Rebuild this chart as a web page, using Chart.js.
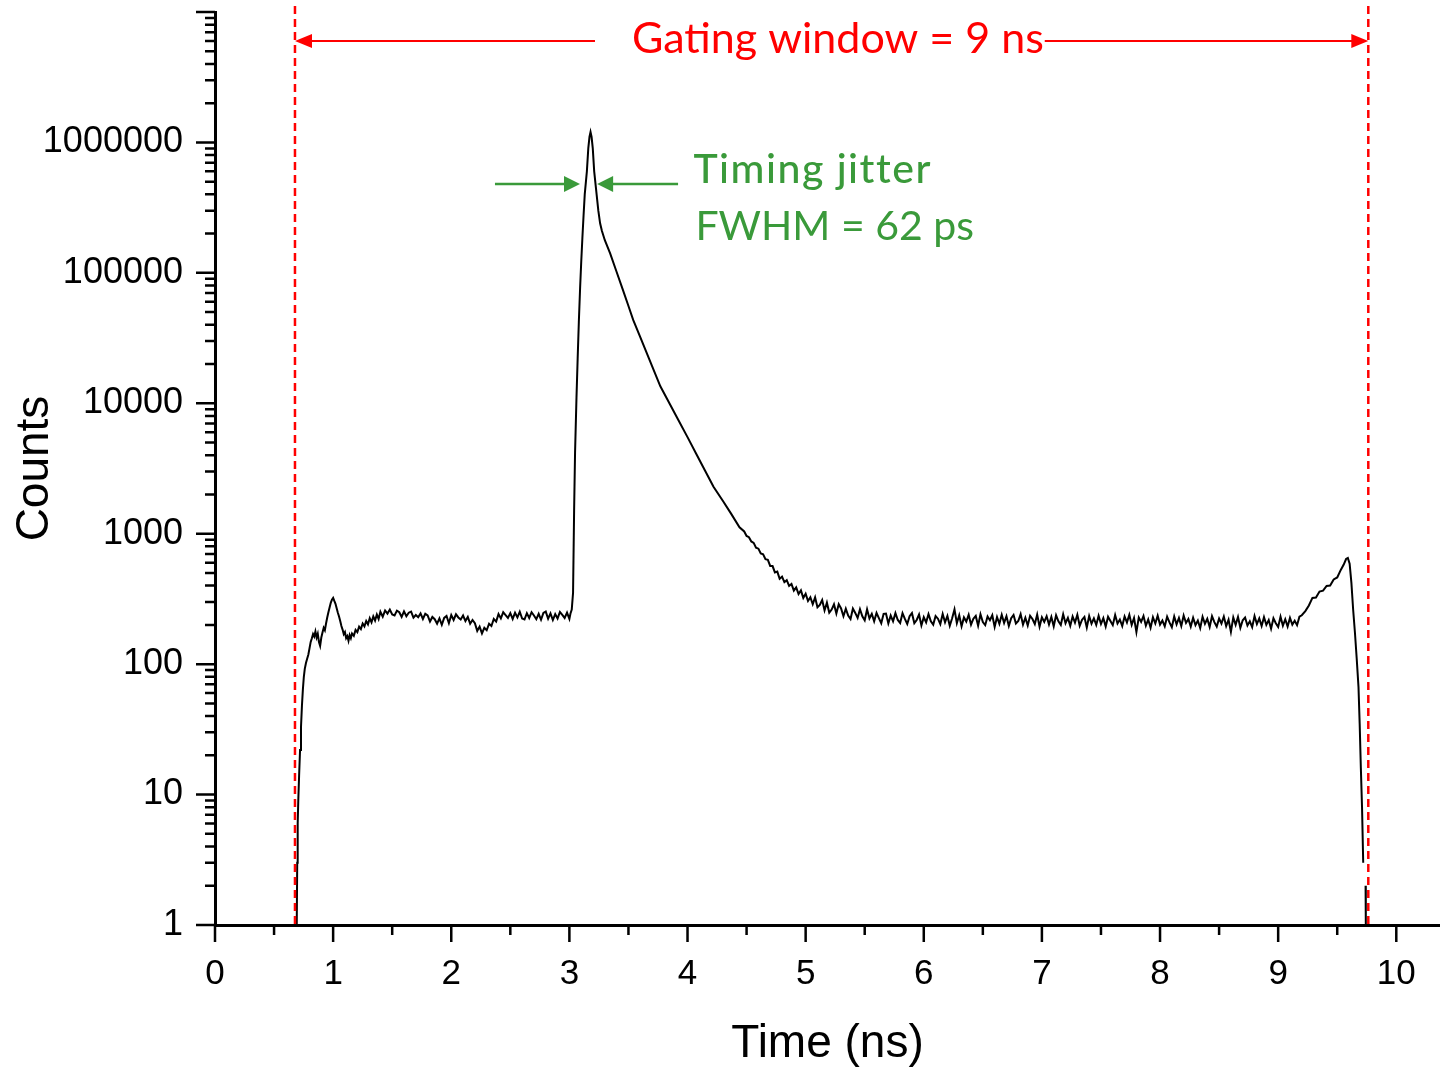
<!DOCTYPE html>
<html>
<head>
<meta charset="utf-8">
<title>Gated detector timing histogram</title>
<script src="https://cdn.jsdelivr.net/npm/chart.js@4.4.1/dist/chart.umd.min.js"></script>
<style>
  html, body { margin: 0; padding: 0; background: #ffffff; }
  #wrap { position: relative; width: 1440px; height: 1067px; }
</style>
</head>
<body>
<div id="wrap"><canvas id="histogram"></canvas></div>
<script>
// Rising edge of the gate and the background plateau before the photon peak
const earlyTimeNs = [
  0.692, 0.696, 0.700, 0.705, 0.712, 0.720, 0.728, 0.736, 0.744, 0.752,
  0.760, 0.770, 0.780, 0.790, 0.800, 0.810, 0.820, 0.830, 0.840, 0.850,
  0.860, 0.870, 0.880, 0.890, 0.900, 0.910, 0.920, 0.930, 0.940, 0.950,
  0.960, 0.970, 0.980, 0.990, 1.000, 1.010, 1.020, 1.030, 1.040, 1.050,
  1.060, 1.070, 1.080, 1.090, 1.100, 1.110, 1.120, 1.130, 1.140, 1.150,
  1.160, 1.175, 1.190, 1.205, 1.220, 1.235, 1.250, 1.265, 1.280, 1.295,
  1.310, 1.325, 1.340, 1.355, 1.370, 1.385, 1.400,
  1.42, 1.44, 1.46, 1.48, 1.50, 1.52, 1.54, 1.56, 1.58, 1.60,
  1.62, 1.64, 1.66, 1.68, 1.70, 1.72, 1.74, 1.76, 1.78, 1.80,
  1.82, 1.84, 1.86, 1.88, 1.90, 1.92, 1.94, 1.96, 1.98, 2.00,
  2.02, 2.04, 2.06, 2.08, 2.10, 2.12, 2.14, 2.16, 2.18, 2.20,
  2.22, 2.24, 2.26, 2.28, 2.30, 2.32, 2.34, 2.36, 2.38, 2.40,
  2.42, 2.44, 2.46, 2.48, 2.50, 2.52, 2.54, 2.56, 2.58, 2.60,
  2.62, 2.64, 2.66, 2.68, 2.70, 2.72, 2.74, 2.76, 2.78, 2.80,
  2.82, 2.84, 2.86, 2.88, 2.90, 2.92, 2.94, 2.96, 2.98, 3.00,
  3.01, 3.02
];
const earlyCounts = [
  1, 3, 6, 9, 14, 22, 33, 48, 64, 80,
  92, 102, 110, 118, 132, 148, 158, 170, 163, 178,
  160, 171, 148, 138, 160, 175, 190, 182, 205, 228,
  250, 272, 295, 312, 322, 305, 290, 268, 248, 232,
  214, 196, 184, 170, 176, 158, 164, 151, 167, 158,
  172, 165, 183, 176, 194, 186, 205, 195, 214, 202,
  225, 209, 232, 216, 240, 222, 252,
  231, 258, 244, 262, 240, 236, 257, 250, 230, 254,
  233, 248, 253, 227, 238, 229, 245, 222, 243, 236,
  212, 230, 221, 204, 224, 200, 226, 234, 206, 238,
  218, 241, 228, 220, 236, 214, 230, 204, 218, 206,
  180, 194, 172, 190, 182, 204, 196, 222, 212, 242,
  224, 250, 238, 226, 246, 222, 248, 228, 252, 224,
  220, 246, 226, 250, 236, 221, 243, 219, 247, 253,
  223, 245, 218, 242, 224, 251, 239, 226, 248, 222,
  246, 262
];

// Photon peak and its diffusion tail
const peakTimeNs = [
  3.031, 3.040, 3.048, 3.060, 3.070, 3.080, 3.091, 3.100, 3.110, 3.120,
  3.130, 3.148, 3.160, 3.170, 3.179, 3.188, 3.198, 3.210, 3.228, 3.245,
  3.260, 3.275, 3.300, 3.345, 3.400, 3.450, 3.500, 3.540, 3.600, 3.650,
  3.700, 3.770, 3.850, 3.920, 4.000, 4.070, 4.150, 4.220, 4.300, 4.370,
  4.440
];
const peakCounts = [
  352, 1500, 4200, 11000, 22000, 42000, 78000, 120000, 185000, 275000,
  400000, 600000, 900000, 1100000, 1200000, 1100000, 900000, 600000, 420000, 300000,
  240000, 210000, 178000, 141000, 101600, 75300, 55700, 43600, 32100, 24900,
  19300, 13500, 9860, 7500, 5500, 4160, 3030, 2290, 1780, 1420,
  1120
];

// Late background plateau
const lateTimeNs = [
  4.48, 4.50, 4.52, 4.54, 4.56, 4.58, 4.60, 4.62, 4.64, 4.66,
  4.68, 4.70, 4.72, 4.74, 4.76, 4.78, 4.80, 4.82, 4.84, 4.86,
  4.88, 4.90, 4.92, 4.94, 4.96, 4.98, 5.00, 5.02, 5.04, 5.06,
  5.08, 5.10, 5.12, 5.14, 5.16, 5.18, 5.20, 5.22, 5.24, 5.26,
  5.28, 5.30, 5.32, 5.34, 5.36, 5.38, 5.40, 5.42, 5.44, 5.46,
  5.48, 5.50, 5.52, 5.54, 5.56, 5.58, 5.60, 5.62, 5.64, 5.66,
  5.68, 5.70, 5.72, 5.74, 5.76, 5.78, 5.80, 5.82, 5.84, 5.86,
  5.88, 5.90, 5.92, 5.94, 5.96, 5.98, 6.00, 6.02, 6.04, 6.06,
  6.08, 6.10, 6.12, 6.14, 6.16, 6.18, 6.20, 6.22, 6.24, 6.26,
  6.28, 6.30, 6.32, 6.34, 6.36, 6.38, 6.40, 6.42, 6.44, 6.46,
  6.48, 6.50, 6.52, 6.54, 6.56, 6.58, 6.60, 6.62, 6.64, 6.66,
  6.68, 6.70, 6.72, 6.74, 6.76, 6.78, 6.80, 6.82, 6.84, 6.86,
  6.88, 6.90, 6.92, 6.94, 6.96, 6.98, 7.00, 7.02, 7.04, 7.06,
  7.08, 7.10, 7.12, 7.14, 7.16, 7.18, 7.20, 7.22, 7.24, 7.26,
  7.28, 7.30, 7.32, 7.34, 7.36, 7.38, 7.40, 7.42, 7.44, 7.46,
  7.48, 7.50, 7.52, 7.54, 7.56, 7.58, 7.60, 7.62, 7.64, 7.66,
  7.68, 7.70, 7.72, 7.74, 7.76, 7.78, 7.80, 7.82, 7.84, 7.86,
  7.88, 7.90, 7.92, 7.94, 7.96, 7.98, 8.00, 8.02, 8.04, 8.06,
  8.08, 8.10, 8.12, 8.14, 8.16, 8.18, 8.20, 8.22, 8.24, 8.26,
  8.28, 8.30, 8.32, 8.34, 8.36, 8.38, 8.40, 8.42, 8.44, 8.46,
  8.48, 8.50, 8.52, 8.54, 8.56, 8.58, 8.60, 8.62, 8.64, 8.66,
  8.68, 8.70, 8.72, 8.74, 8.76, 8.78, 8.80, 8.82, 8.84, 8.86,
  8.88, 8.90, 8.92, 8.94, 8.96, 8.98, 9.00, 9.02, 9.04, 9.06,
  9.08, 9.10, 9.12, 9.14, 9.16, 9.18, 9.20
];
const lateCounts = [
  1040, 962, 940, 872, 850, 782, 768, 706, 695, 638,
  630, 566, 565, 505, 512, 452, 468, 425, 440, 398,
  412, 366, 388, 345, 368, 322, 347, 305, 326, 288,
  325, 273, 284, 310, 258, 296, 248, 262, 288, 245,
  288, 267, 233, 266, 236, 222, 267, 247, 226, 264,
  233, 217, 263, 224, 243, 213, 247, 225, 206, 243,
  244, 205, 236, 213, 246, 218, 207, 246, 222, 203,
  233, 246, 206, 218, 240, 198, 229, 209, 242, 213,
  201, 234, 223, 203, 242, 209, 234, 197, 225, 263,
  206, 237, 195, 228, 212, 239, 201, 223, 234, 197,
  241, 210, 199, 232, 217, 237, 193, 230, 204, 239,
  207, 233, 196, 225, 238, 205, 214, 242, 201, 227,
  198, 235, 222, 203, 240, 194, 229, 211, 233, 201,
  230, 195, 237, 213, 200, 241, 206, 226, 197, 232,
  208, 239, 197, 219, 230, 191, 234, 204, 224, 200,
  235, 203, 225, 194, 231, 214, 199, 238, 205, 220,
  196, 232, 209, 239, 200, 226, 176, 228, 211, 234,
  197, 220, 190, 229, 205, 235, 201, 216, 195, 231,
  209, 192, 232, 202, 226, 196, 236, 207, 222, 194,
  227, 199, 216, 189, 231, 204, 223, 193, 233, 210,
  194, 224, 205, 232, 196, 219, 177, 228, 200, 230,
  190, 217, 228, 198, 213, 192, 234, 203, 224, 196,
  229, 200, 218, 187, 225, 206, 193, 231, 197, 221,
  194, 226, 201, 215, 199, 231, 237
];

// Afterpulse bump and falling edge of the gate (null = empty bin)
const edgeTimeNs = [
  9.23, 9.26, 9.29, 9.32, 9.35, 9.38, 9.41, 9.44, 9.47, 9.50,
  9.53, 9.555, 9.575, 9.59, 9.605, 9.62, 9.635, 9.65, 9.665, 9.68,
  9.69, 9.70, 9.71, 9.72, 9.73, 9.74, 9.742
];
const edgeCounts = [
  255, 282, 322, 324, 360, 366, 398, 400, 446, 462,
  528, 580, 640, 652, 590, 420, 260, 174, 110, 67,
  35, 16, 8, 3, null, 2, 1
];

// Axis ticks
const xTickValues = [0, 1, 2, 3, 4, 5, 6, 7, 8, 9, 10];
const yTickValues = [1, 10, 100, 1000, 10000, 100000, 1000000, 10000000];
const yTickLabels = ['1', '10', '100', '1000', '10000', '100000', '1000000', ''];

// Gate edges and annotation anchors (data units)
const gateStartNs = 0.677;
const gateEndNs = 9.763;
const gateArrowCounts = 6.0e6;
const gateLabelStartNs = 3.53;
const jitterArrowCounts = 4.8e5;
const jitterLeftTailNs = 2.37;
const jitterLeftTipNs = 3.09;
const jitterRightTipNs = 3.235;
const jitterRightTailNs = 3.92;
const jitterLabelNs = 4.05;

const RED = '#ff0000';
const GREEN = '#3a9a3a';

const timeNs = earlyTimeNs.concat(peakTimeNs, lateTimeNs, edgeTimeNs);
const counts = earlyCounts.concat(peakCounts, lateCounts, edgeCounts);
const points = timeNs.map((t, i) => ({ x: t, y: counts[i] }));

function arrowHead(ctx, tipX, tipY, dir, len, half) {
  ctx.beginPath();
  ctx.moveTo(tipX, tipY);
  ctx.lineTo(tipX - dir * len, tipY - half);
  ctx.lineTo(tipX - dir * len, tipY + half);
  ctx.closePath();
  ctx.fill();
}

const decorations = {
  id: 'decorations',
  afterDraw(chart) {
    const { ctx, chartArea: a, scales: { x, y } } = chart;
    ctx.save();

    // major and minor tick marks
    ctx.strokeStyle = '#000';
    ctx.lineWidth = 2.5;
    ctx.beginPath();
    yTickValues.forEach(v => {
      const py = y.getPixelForValue(v);
      ctx.moveTo(a.left - 19, py); ctx.lineTo(a.left, py);
    });
    for (let d = 0; d < yTickValues.length - 1; d++) {
      for (let m = 2; m <= 9; m++) {
        const py = y.getPixelForValue(yTickValues[d] * m);
        ctx.moveTo(a.left - 10, py); ctx.lineTo(a.left, py);
      }
    }
    xTickValues.forEach(v => {
      const px = x.getPixelForValue(v);
      ctx.moveTo(px, a.bottom); ctx.lineTo(px, a.bottom + 17);
    });
    xTickValues.slice(0, -1).forEach(v => {
      const px = x.getPixelForValue(v + 0.5);
      ctx.moveTo(px, a.bottom); ctx.lineTo(px, a.bottom + 10);
    });
    ctx.stroke();

    // gate edges
    const gx0 = x.getPixelForValue(gateStartNs);
    const gx1 = x.getPixelForValue(gateEndNs);
    ctx.strokeStyle = RED;
    ctx.lineWidth = 2.5;
    ctx.setLineDash([8, 5]);
    ctx.beginPath();
    ctx.moveTo(gx0, a.top - 6); ctx.lineTo(gx0, a.bottom);
    ctx.moveTo(gx1, a.top - 6); ctx.lineTo(gx1, a.bottom);
    ctx.stroke();
    ctx.setLineDash([]);

    // gating window arrow and label
    const gy = y.getPixelForValue(gateArrowCounts);
    const label = 'Gating window = 9 ns';
    ctx.font = '43px Lato';
    ctx.fillStyle = RED;
    ctx.textBaseline = 'alphabetic';
    const lx = x.getPixelForValue(gateLabelStartNs);
    const lw = ctx.measureText(label).width;
    ctx.fillText(label, lx, gy + 12);
    ctx.lineWidth = 2;
    ctx.beginPath();
    ctx.moveTo(gx0 + 10, gy); ctx.lineTo(lx - 37, gy);
    ctx.moveTo(lx + lw + 1, gy); ctx.lineTo(gx1 - 10, gy);
    ctx.stroke();
    arrowHead(ctx, gx0, gy, -1, 17, 7);
    arrowHead(ctx, gx1, gy, 1, 17, 7);

    // timing jitter arrows and labels
    const jy = y.getPixelForValue(jitterArrowCounts);
    ctx.strokeStyle = GREEN;
    ctx.fillStyle = GREEN;
    ctx.lineWidth = 2.5;
    const jl0 = x.getPixelForValue(jitterLeftTailNs);
    const jl1 = x.getPixelForValue(jitterLeftTipNs);
    const jr1 = x.getPixelForValue(jitterRightTipNs);
    const jr0 = x.getPixelForValue(jitterRightTailNs);
    ctx.beginPath();
    ctx.moveTo(jl0, jy); ctx.lineTo(jl1 - 10, jy);
    ctx.moveTo(jr0, jy); ctx.lineTo(jr1 + 10, jy);
    ctx.stroke();
    arrowHead(ctx, jl1, jy, 1, 16, 8);
    arrowHead(ctx, jr1, jy, -1, 16, 8);

    const tx = x.getPixelForValue(jitterLabelNs);
    ctx.font = '500 41px Lato';
    ctx.letterSpacing = '1.5px';
    ctx.fillText('Timing jitter', tx, jy - 1);
    ctx.letterSpacing = '0px';
    ctx.font = '41px Lato';
    ctx.fillText('FWHM = 62 ps', tx + 2, jy + 56);

    ctx.restore();
  }
};

const axisFont = "'Liberation Sans', Arial, sans-serif";

new Chart(document.getElementById('histogram'), {
  type: 'line',
  data: {
    datasets: [{
      data: points,
      borderColor: '#000',
      borderWidth: 2,
      pointRadius: 0,
      fill: false,
      tension: 0,
      spanGaps: false
    }]
  },
  options: {
    responsive: true,
    maintainAspectRatio: false,
    animation: false,
    layout: { padding: { top: 12, right: 0, bottom: 0, left: 0 } },
    plugins: { legend: { display: false }, tooltip: { enabled: false } },
    scales: {
      x: {
        type: 'linear',
        min: 0,
        max: 10.37,
        afterBuildTicks: s => { s.ticks = xTickValues.map(v => ({ value: v })); },
        afterFit: s => { s.height = 142; s.paddingLeft = 0; s.paddingRight = 0; },
        grid: { display: true, drawOnChartArea: false, drawTicks: false, color: 'rgba(0,0,0,0)' },
        border: { display: true, color: '#000', width: 3 },
        ticks: {
          color: '#000',
          font: { family: axisFont, size: 35 },
          padding: 28,
          maxRotation: 0,
          autoSkip: false,
          callback: v => String(v)
        },
        title: {
          display: true,
          text: 'Time (ns)',
          color: '#000',
          font: { family: axisFont, size: 46, lineHeight: 1 },
          padding: { top: 0, bottom: 0 }
        }
      },
      y: {
        type: 'logarithmic',
        min: 1,
        max: 10000000,
        afterBuildTicks: s => { s.ticks = yTickValues.map(v => ({ value: v })); },
        afterFit: s => { s.width = 215; s.paddingTop = 0; s.paddingBottom = 0; },
        grid: { display: true, drawOnChartArea: false, drawTicks: false, color: 'rgba(0,0,0,0)' },
        border: { display: true, color: '#000', width: 3 },
        ticks: {
          color: '#000',
          font: { family: axisFont, size: 36 },
          padding: 32,
          autoSkip: false,
          callback: (v, i) => yTickLabels[i]
        },
        title: {
          display: true,
          text: 'Counts',
          color: '#000',
          font: { family: axisFont, size: 46, lineHeight: 1 },
          padding: { top: 12, bottom: 0 }
        }
      }
    }
  },
  plugins: [decorations]
});
</script>
</body>
</html>
